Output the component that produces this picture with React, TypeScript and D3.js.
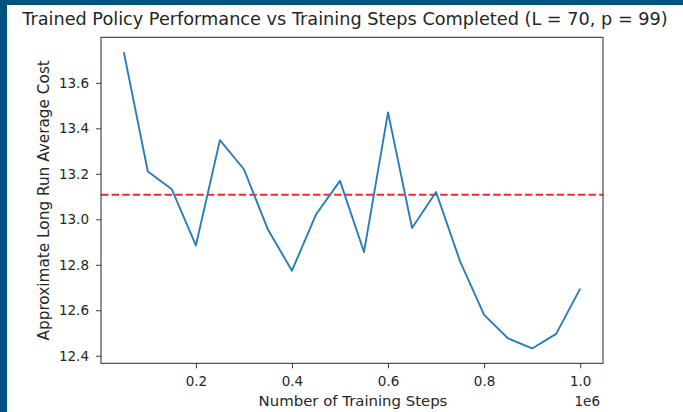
import React, { useEffect, useRef } from 'react'
import * as d3 from 'd3'

const steps = [0.05, 0.1, 0.15, 0.2, 0.25, 0.3, 0.35, 0.4, 0.45, 0.5, 0.55, 0.6, 0.65, 0.7, 0.75, 0.8, 0.85, 0.9, 0.95, 1.0]
const avgCost = [13.735, 13.21, 13.132, 12.885, 13.348, 13.22, 12.955, 12.774, 13.021, 13.169, 12.856, 13.47, 12.962, 13.12, 12.815, 12.58, 12.476, 12.432, 12.496, 12.695]
const baseline = 13.108
const xTicks = [0.2, 0.4, 0.6, 0.8, 1.0]
const yTicks = [12.4, 12.6, 12.8, 13.0, 13.2, 13.4, 13.6]

const W = 683
const H = 412
const margin = { top: 37.3, right: 80, bottom: 48.7, left: 101 }
const font = '"DejaVu Sans", sans-serif'
const ink = '#262626'

export default function App() {
    const xAxisRef = useRef<SVGGElement>(null)
    const yAxisRef = useRef<SVGGElement>(null)

    const xPad = (d3.max(steps)! - d3.min(steps)!) * 0.05
    const yPad = (d3.max(avgCost)! - d3.min(avgCost)!) * 0.05
    const x = d3.scaleLinear()
        .domain([d3.min(steps)! - xPad, d3.max(steps)! + xPad])
        .range([margin.left, W - margin.right])
    const y = d3.scaleLinear()
        .domain([d3.min(avgCost)! - yPad, d3.max(avgCost)! + yPad])
        .range([H - margin.bottom, margin.top])

    const line = d3.line<number>()
        .x((_, i) => x(steps[i]))
        .y(d => y(d))

    useEffect(() => {
        const xa = d3.axisBottom(x).tickValues(xTicks).tickFormat(d3.format('.1f')).tickSize(5).tickPadding(8)
        const ya = d3.axisLeft(y).tickValues(yTicks).tickFormat(d3.format('.1f')).tickSize(5).tickPadding(7)
        const gx = d3.select(xAxisRef.current!).call(xa)
        const gy = d3.select(yAxisRef.current!).call(ya)
        for (const g of [gx, gy]) {
            g.select('.domain').remove()
            g.selectAll('line').attr('stroke', ink).attr('stroke-width', 0.9)
            g.selectAll('text').attr('fill', ink).attr('font-size', 13.5).attr('font-family', font)
        }
    }, [])

    const midY = (margin.top + H - margin.bottom) / 2

    return (
        <svg width={W} height={H} style={{ position: 'fixed', left: 0, top: 0, background: '#fff' }}>
            {/* dark frame around the screenshot */}
            <rect x={0} y={0} width={W} height={5} fill="#02527f" />
            <rect x={0} y={0} width={7} height={H} fill="#02527f" />

            <text x={345} y={25} textAnchor="middle" fontSize={17.7} fontFamily={font} fill={ink}>
                Trained Policy Performance vs Training Steps Completed (L = 70, p = 99)
            </text>

            <line x1={x.range()[0]} x2={x.range()[1]} y1={y(baseline)} y2={y(baseline)}
                stroke="#f02b2b" strokeWidth={2} strokeDasharray="7.4,3.2" />
            <path d={line(avgCost)!} fill="none" stroke="#2a7db8" strokeWidth={1.9} strokeLinejoin="round" />

            <rect x={margin.left} y={margin.top} width={W - margin.left - margin.right}
                height={H - margin.bottom - margin.top} fill="none" stroke={ink} strokeWidth={1} />

            <g ref={xAxisRef} transform={`translate(0, ${H - margin.bottom})`} />
            <g ref={yAxisRef} transform={`translate(${margin.left}, 0)`} />

            <text x={600} y={405.5} textAnchor="end" fontSize={13.5} fontFamily={font} fill={ink}>1e6</text>
            <text x={353} y={405.5} textAnchor="middle" fontSize={14.9} fontFamily={font} fill={ink}>Number of Training Steps</text>
            <text transform={`translate(49, ${midY}) rotate(-90)`}
                textAnchor="middle" fontSize={15.3} fontFamily={font} fill={ink}>
                Approximate Long Run Average Cost
            </text>
        </svg>
    )
}
